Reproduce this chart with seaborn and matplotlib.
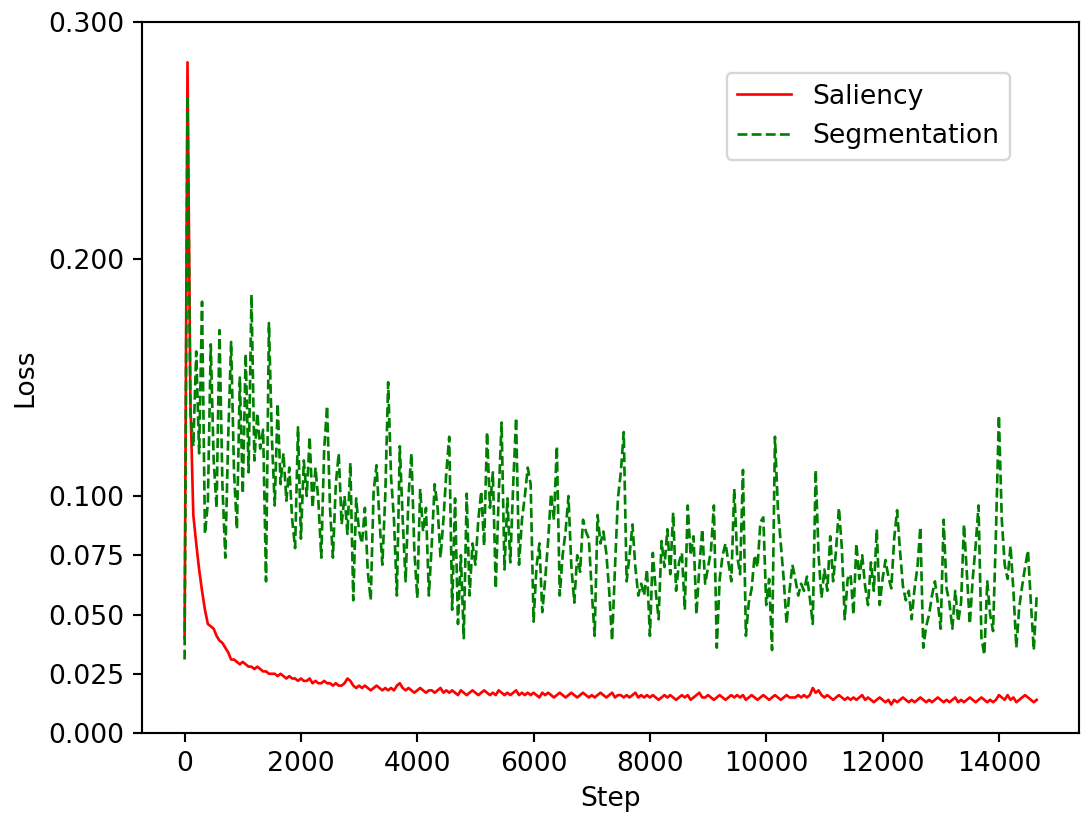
import matplotlib
matplotlib.use("Agg")
import matplotlib.pyplot as plt
import seaborn as sns
import numpy as np
import pandas as pd
from matplotlib.ticker import FormatStrFormatter

# logging step every 50 iterations
steps = list(range(0, 14700, 50))

saliency = [
    0.040, 0.283, 0.140, 0.092, 0.080, 0.069, 0.060, 0.052, 0.046, 0.045,
    0.044, 0.041, 0.039, 0.038, 0.036, 0.034, 0.031, 0.031, 0.030, 0.029,
    0.030, 0.029, 0.028, 0.028, 0.027, 0.028, 0.027, 0.026, 0.026, 0.025,
    0.025, 0.025, 0.024, 0.025, 0.024, 0.023, 0.024, 0.023, 0.023, 0.022,
    0.023, 0.022, 0.022, 0.023, 0.021, 0.022, 0.021, 0.021, 0.022, 0.021,
    0.021, 0.020, 0.021, 0.020, 0.020, 0.021, 0.023, 0.022, 0.020, 0.019,
    0.020, 0.019, 0.020, 0.019, 0.018, 0.019, 0.020, 0.019, 0.018, 0.019,
    0.018, 0.019, 0.018, 0.020, 0.021, 0.019, 0.018, 0.019, 0.018, 0.017,
    0.018, 0.019, 0.018, 0.017, 0.018, 0.018, 0.017, 0.018, 0.019, 0.017,
    0.018, 0.017, 0.018, 0.017, 0.016, 0.018, 0.017, 0.016, 0.017, 0.018,
    0.017, 0.016, 0.017, 0.018, 0.017, 0.016, 0.017, 0.016, 0.018, 0.017,
    0.016, 0.017, 0.016, 0.017, 0.018, 0.016, 0.017, 0.016, 0.017, 0.016,
    0.017, 0.016, 0.015, 0.017, 0.016, 0.017, 0.016, 0.015, 0.016, 0.017,
    0.016, 0.015, 0.016, 0.017, 0.016, 0.015, 0.016, 0.017, 0.016, 0.015,
    0.016, 0.015, 0.016, 0.017, 0.016, 0.015, 0.016, 0.017, 0.015, 0.016,
    0.016, 0.015, 0.016, 0.015, 0.016, 0.017, 0.015, 0.016, 0.015, 0.016,
    0.015, 0.016, 0.015, 0.014, 0.015, 0.016, 0.015, 0.016, 0.015, 0.014,
    0.015, 0.016, 0.015, 0.016, 0.014, 0.015, 0.016, 0.017, 0.015, 0.015,
    0.016, 0.015, 0.014, 0.015, 0.016, 0.015, 0.014, 0.015, 0.016, 0.015,
    0.016, 0.015, 0.016, 0.014, 0.015, 0.016, 0.015, 0.014, 0.015, 0.016,
    0.015, 0.014, 0.015, 0.016, 0.015, 0.014, 0.015, 0.016, 0.015, 0.015,
    0.015, 0.016, 0.015, 0.016, 0.015, 0.016, 0.019, 0.017, 0.018, 0.016,
    0.015, 0.016, 0.015, 0.014, 0.015, 0.016, 0.015, 0.014, 0.015, 0.014,
    0.015, 0.014, 0.015, 0.016, 0.014, 0.015, 0.014, 0.013, 0.014, 0.015,
    0.014, 0.013, 0.014, 0.012, 0.014, 0.013, 0.014, 0.015, 0.014, 0.013,
    0.014, 0.013, 0.014, 0.015, 0.014, 0.013, 0.014, 0.013, 0.014, 0.015,
    0.014, 0.013, 0.014, 0.013, 0.014, 0.015, 0.013, 0.014, 0.013, 0.014,
    0.015, 0.014, 0.013, 0.014, 0.015, 0.014, 0.013, 0.014, 0.013, 0.014,
    0.016, 0.015, 0.014, 0.016, 0.014, 0.015, 0.013, 0.014, 0.015, 0.016,
    0.015, 0.014, 0.013, 0.014,
]

segmentation = [
    0.031, 0.269, 0.135, 0.121, 0.161, 0.118, 0.182, 0.084, 0.097, 0.164,
    0.115, 0.095, 0.170, 0.105, 0.074, 0.125, 0.165, 0.110, 0.086, 0.150,
    0.101, 0.160, 0.110, 0.185, 0.115, 0.135, 0.120, 0.128, 0.064, 0.173,
    0.125, 0.096, 0.139, 0.105, 0.118, 0.098, 0.112, 0.090, 0.078, 0.129,
    0.082, 0.115, 0.100, 0.125, 0.095, 0.112, 0.098, 0.074, 0.120, 0.138,
    0.095, 0.074, 0.105, 0.118, 0.088, 0.100, 0.084, 0.114, 0.056, 0.099,
    0.085, 0.080, 0.095, 0.068, 0.056, 0.102, 0.113, 0.090, 0.071, 0.100,
    0.148, 0.108, 0.090, 0.058, 0.121, 0.090, 0.064, 0.100, 0.118, 0.077,
    0.057, 0.103, 0.085, 0.095, 0.058, 0.080, 0.105, 0.095, 0.074, 0.090,
    0.110, 0.125, 0.052, 0.099, 0.046, 0.075, 0.040, 0.101, 0.058, 0.080,
    0.071, 0.090, 0.102, 0.079, 0.127, 0.095, 0.110, 0.061, 0.100, 0.131,
    0.069, 0.099, 0.072, 0.105, 0.133, 0.071, 0.090, 0.100, 0.112, 0.105,
    0.047, 0.070, 0.080, 0.051, 0.065, 0.081, 0.101, 0.090, 0.121, 0.058,
    0.075, 0.085, 0.100, 0.070, 0.055, 0.075, 0.068, 0.090, 0.085, 0.082,
    0.060, 0.041, 0.092, 0.080, 0.085, 0.076, 0.060, 0.039, 0.070, 0.099,
    0.110, 0.127, 0.064, 0.075, 0.088, 0.070, 0.058, 0.063, 0.058, 0.069,
    0.041, 0.076, 0.060, 0.048, 0.081, 0.070, 0.086, 0.067, 0.093, 0.060,
    0.072, 0.076, 0.052, 0.096, 0.075, 0.083, 0.050, 0.070, 0.086, 0.063,
    0.070, 0.077, 0.096, 0.036, 0.065, 0.075, 0.080, 0.072, 0.064, 0.103,
    0.075, 0.067, 0.111, 0.041, 0.055, 0.061, 0.075, 0.070, 0.089, 0.091,
    0.054, 0.065, 0.035, 0.125, 0.095, 0.080, 0.065, 0.046, 0.060, 0.071,
    0.065, 0.058, 0.063, 0.060, 0.066, 0.057, 0.046, 0.111, 0.075, 0.057,
    0.069, 0.060, 0.083, 0.064, 0.077, 0.095, 0.078, 0.048, 0.065, 0.067,
    0.050, 0.080, 0.065, 0.075, 0.062, 0.054, 0.072, 0.060, 0.086, 0.054,
    0.065, 0.073, 0.066, 0.061, 0.082, 0.094, 0.077, 0.062, 0.056, 0.060,
    0.048, 0.061, 0.070, 0.087, 0.036, 0.045, 0.050, 0.058, 0.064, 0.055,
    0.044, 0.090, 0.061, 0.055, 0.044, 0.060, 0.047, 0.055, 0.088, 0.067,
    0.046, 0.065, 0.079, 0.096, 0.040, 0.033, 0.064, 0.050, 0.043, 0.085,
    0.134, 0.090, 0.071, 0.065, 0.079, 0.060, 0.036, 0.053, 0.062, 0.070,
    0.077, 0.055, 0.035, 0.058,
]

y_ticks = [0.0, 0.025, 0.05, 0.075, 0.1, 0.2, 0.3]

n = min(len(steps), len(saliency), len(segmentation))
df = pd.DataFrame({
    "Step": steps[:n],
    "Saliency": saliency[:n],
    "Segmentation": segmentation[:n],
})

k = 1.13
plt.rcParams.update({
    "font.size": 10 * k,
    "axes.linewidth": 0.8 * k,
    "xtick.major.size": 3.5 * k,
    "ytick.major.size": 3.5 * k,
    "xtick.major.width": 0.8 * k,
    "ytick.major.width": 0.8 * k,
    "legend.fontsize": 10 * k,
})

fig = plt.figure(figsize=(6.4, 4.8), dpi=170)
ax = fig.add_axes([0.1305, 0.1017, 0.8615, 0.8713])

sns.lineplot(data=df, x="Step", y="Saliency", ax=ax, color="red",
             linewidth=1.0 * k, label="Saliency")
sns.lineplot(data=df, x="Step", y="Segmentation", ax=ax, color="green",
             linewidth=1.0 * k, linestyle="--", label="Segmentation")

ax.set_ylim(0, 0.3)
ax.set_yticks(y_ticks)
ax.yaxis.set_major_formatter(FormatStrFormatter("%.3f"))
ax.set_xlabel("Step")
ax.set_ylabel("Loss")
ax.legend(loc="upper right", bbox_to_anchor=(0.94, 0.947))

fig.savefig("out.png", dpi=170)
